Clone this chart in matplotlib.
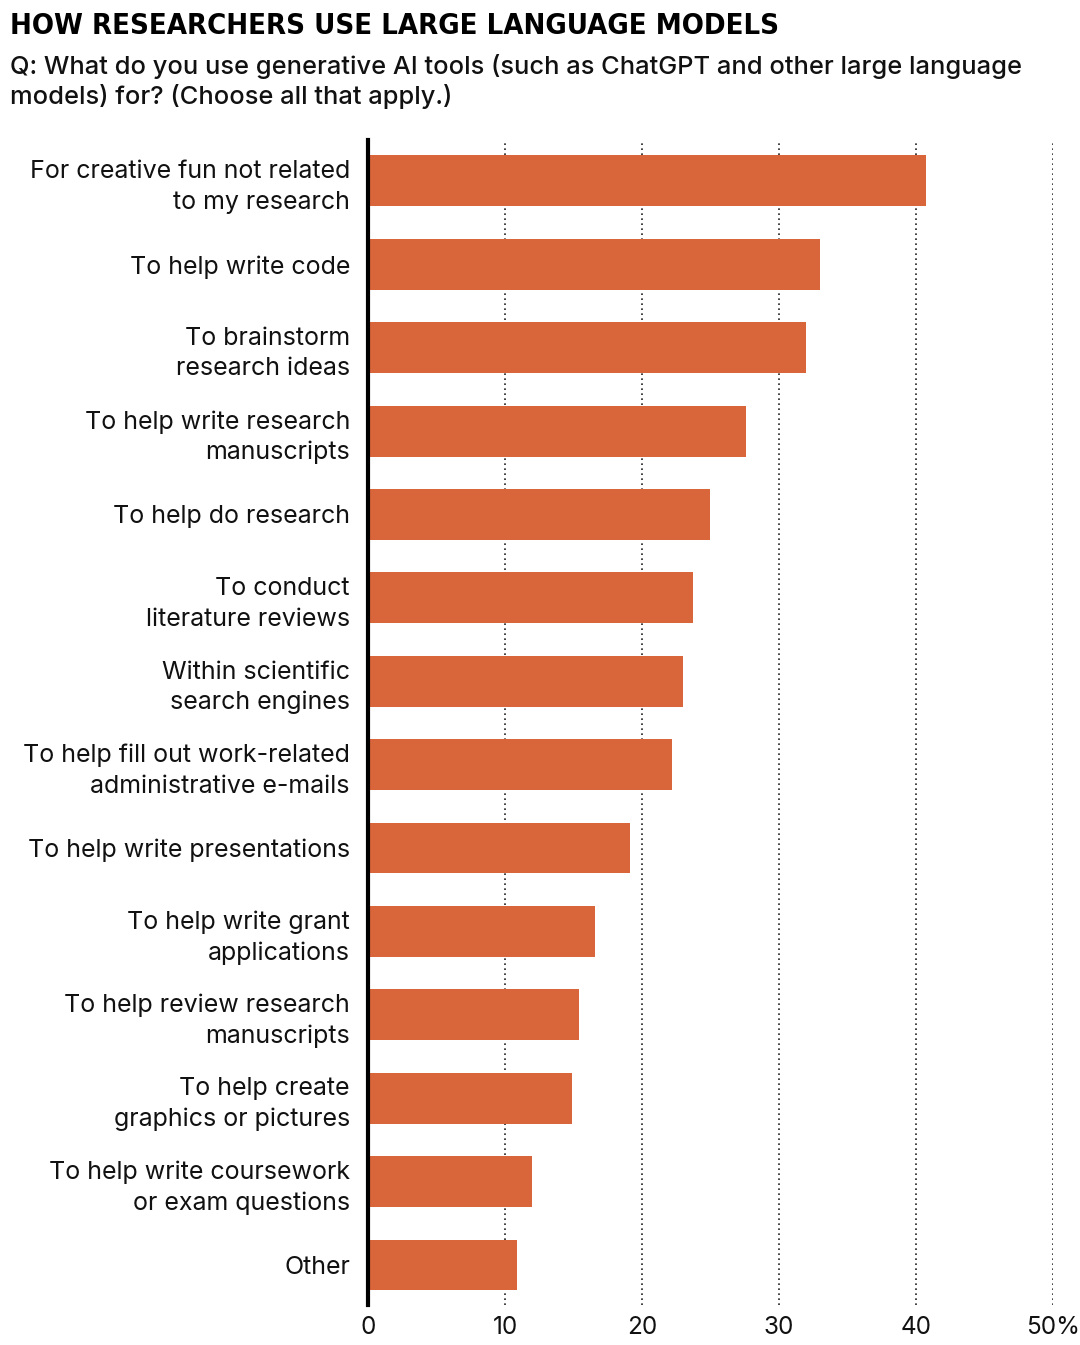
import matplotlib.pyplot as plt

# Data (percent of respondents)
categories = [
    "For creative fun not related\nto my research",
    "To help write code",
    "To brainstorm\nresearch ideas",
    "To help write research\nmanuscripts",
    "To help do research",
    "To conduct\nliterature reviews",
    "Within scientific\nsearch engines",
    "To help fill out work-related\nadministrative e-mails",
    "To help write presentations",
    "To help write grant\napplications",
    "To help review research\nmanuscripts",
    "To help create\ngraphics or pictures",
    "To help write coursework\nor exam questions",
    "Other",
]
values = [40.7, 33.0, 32.0, 27.6, 25.0, 23.7, 23.0, 22.2, 19.1, 16.6, 15.4, 14.9, 12.0, 10.9]
tick_values = [0, 10, 20, 30, 40, 50]
tick_labels = ["0", "10", "20", "30", "40", "50%"]

bar_color = "#D9653A"
font = ["Inter", "DejaVu Sans"]

fig = plt.figure(figsize=(10.8, 13.45), dpi=100)
ax = fig.add_axes([0.3407, 0.0297, 0.6343, 0.8662])

y = list(range(len(categories)))
ax.barh(y, values, height=0.61, color=bar_color, zorder=3)

ax.set_ylim(len(categories) - 0.52, -0.49)
ax.set_xlim(0, 50)

# Dotted gridlines
for v in tick_values[1:]:
    ax.axvline(v, color="#222222", linestyle=(0, (1, 2)), linewidth=1.2, zorder=1)

ax.set_xticks(tick_values)
ax.set_xticklabels(tick_labels, fontsize=17.5, family=font, color="#111111")
ax.set_yticks(y)
ax.set_yticklabels(categories, fontsize=18, family=font, color="#111111",
                   linespacing=1.4)
ax.tick_params(axis="both", length=0)
ax.tick_params(axis="y", pad=13)
ax.tick_params(axis="x", pad=8)

for s in ["top", "right", "bottom"]:
    ax.spines[s].set_visible(False)
ax.spines["left"].set_linewidth(3)
ax.spines["left"].set_color("black")
ax.spines["left"].set_zorder(4)

# Title and subtitle
fig.text(0.009, 0.9805, "HOW RESEARCHERS USE LARGE LANGUAGE MODELS",
         fontsize=21, fontweight="heavy", fontstretch="condensed",
         family=["Liberation Sans Narrow", "DejaVu Sans"],
         ha="left", va="center", color="black")
fig.text(0.009, 0.9595,
         "Q: What do you use generative AI tools (such as ChatGPT and other large language\n"
         "models) for? (Choose all that apply.)",
         fontsize=18.3, fontweight="medium", family=font, ha="left", va="top",
         linespacing=1.25, color="#111111")

fig.savefig("out.png", dpi=100)
